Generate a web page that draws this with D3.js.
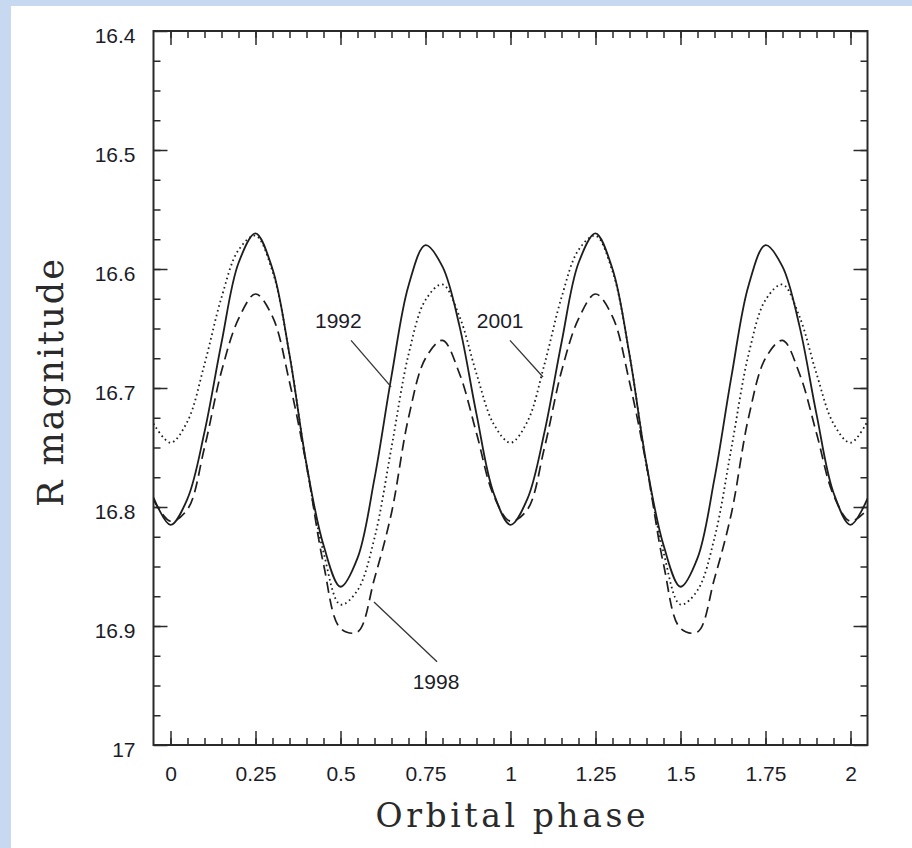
<!DOCTYPE html>
<html>
<head>
<meta charset="utf-8">
<script src="https://cdn.jsdelivr.net/npm/d3@7/dist/d3.min.js"></script>
<style>
  html, body { margin: 0; padding: 0; background: #c6d9f0; }
  svg { display: block; }
</style>
</head>
<body>
<svg id="chart" width="912" height="848"></svg>
<script>
// ---------- data ----------
const phases = [-0.05, 0.00, 0.05, 0.10, 0.15, 0.20, 0.25, 0.30, 0.35, 0.40, 0.45,
  0.50, 0.55, 0.60, 0.65, 0.70, 0.75, 0.80, 0.85, 0.90, 0.95, 1.00,
  1.05, 1.10, 1.15, 1.20, 1.25, 1.30, 1.35, 1.40, 1.45, 1.50, 1.55,
  1.60, 1.65, 1.70, 1.75, 1.80, 1.85, 1.90, 1.95, 2.00, 2.05];

const mag1992 = [16.792, 16.815, 16.793, 16.737, 16.662, 16.595, 16.570, 16.600, 16.672, 16.764, 16.832,
  16.867, 16.843, 16.776, 16.690, 16.614, 16.580, 16.598, 16.648, 16.722, 16.788, 16.815,
  16.793, 16.737, 16.662, 16.595, 16.570, 16.600, 16.672, 16.764, 16.832, 16.867, 16.843,
  16.776, 16.690, 16.614, 16.580, 16.598, 16.648, 16.722, 16.788, 16.815, 16.793];

const mag2001 = [16.730, 16.746, 16.728, 16.680, 16.624, 16.584, 16.572, 16.602, 16.672, 16.765, 16.838,
  16.882, 16.870, 16.826, 16.750, 16.672, 16.626, 16.613, 16.640, 16.688, 16.730, 16.746,
  16.728, 16.680, 16.624, 16.584, 16.572, 16.602, 16.672, 16.765, 16.838, 16.882, 16.870,
  16.826, 16.750, 16.672, 16.626, 16.613, 16.640, 16.688, 16.730, 16.746, 16.728];

const mag1998 = [16.794, 16.812, 16.802, 16.750, 16.686, 16.642, 16.621, 16.640, 16.695, 16.765, 16.848,
  16.902, 16.905, 16.860, 16.805, 16.725, 16.675, 16.660, 16.688, 16.738, 16.790, 16.812,
  16.802, 16.750, 16.686, 16.642, 16.621, 16.640, 16.695, 16.765, 16.848, 16.902, 16.905,
  16.860, 16.805, 16.725, 16.675, 16.660, 16.688, 16.738, 16.790, 16.812, 16.802];

const xTickValues = [0, 0.25, 0.5, 0.75, 1, 1.25, 1.5, 1.75, 2];
const xTickLabels = ["0", "0.25", "0.5", "0.75", "1", "1.25", "1.5", "1.75", "2"];
const yTickValues = [16.4, 16.5, 16.6, 16.7, 16.8, 16.9, 17];
const yTickLabels = ["16.4", "16.5", "16.6", "16.7", "16.8", "16.9", "17"];

const seriesNames = ["1992", "2001", "1998"];
const seriesStyles = ["solid", "dotted", "dashed"];

// annotation labels (data coordinates: phase, magnitude)
const annotLabels = ["1992", "2001", "1998"];
const annotTextPos = [[0.425, 16.6495], [0.901, 16.6495], [0.781, 16.953]];
const annotLineFrom = [[0.531, 16.660], [0.9985, 16.660], [0.5985, 16.8798]];
const annotLineTo = [[0.649, 16.699], [1.0956, 16.6908], [0.784, 16.930]];
const annotAnchor = ["start", "start", "middle"];

// ---------- layout ----------
const W = 912, H = 848;
const plot = { left: 153.5, right: 867.5, top: 31, bottom: 745 };

const svg = d3.select("#chart");
svg.append("rect").attr("x", 0).attr("y", 0).attr("width", W).attr("height", H).attr("fill", "#c6d9f0");
svg.append("rect").attr("x", 11).attr("y", 6).attr("width", W - 11).attr("height", H - 6).attr("fill", "#ffffff");

const x = d3.scaleLinear().domain([-0.05, 2.05]).range([plot.left, plot.right]);
const y = d3.scaleLinear().domain([16.4, 17]).range([plot.top, plot.bottom]);

const axisColor = "#2a2a2a";
const tickFont = "'Liberation Sans', Arial, Helvetica, sans-serif";
const titleFont = "'DejaVu Serif', 'Liberation Serif', serif";

const xMinor = d3.range(0, 43).map(i => -0.05 + i * 0.05).filter(v => v > -0.049 && v < 2.049);
const yMinor = d3.range(0, 25).map(i => 16.4 + i * 0.025).filter(v => v > 16.401 && v < 16.999);

function styleAxis(g) {
  g.select(".domain").remove();
  g.selectAll(".tick line").attr("stroke", axisColor).attr("stroke-width", 1.5);
}

// minor ticks
svg.append("g").attr("transform", `translate(0,${plot.bottom})`)
  .call(d3.axisBottom(x).tickValues(xMinor).tickSize(-7).tickFormat(""))
  .call(styleAxis);
svg.append("g").attr("transform", `translate(0,${plot.top})`)
  .call(d3.axisTop(x).tickValues(xMinor).tickSize(-7).tickFormat(""))
  .call(styleAxis);
svg.append("g").attr("transform", `translate(${plot.left},0)`)
  .call(d3.axisLeft(y).tickValues(yMinor).tickSize(-7).tickFormat(""))
  .call(styleAxis);
svg.append("g").attr("transform", `translate(${plot.right},0)`)
  .call(d3.axisRight(y).tickValues(yMinor).tickSize(-7).tickFormat(""))
  .call(styleAxis);

// major ticks
const xb = svg.append("g").attr("transform", `translate(0,${plot.bottom})`)
  .call(d3.axisBottom(x).tickValues(xTickValues).tickSize(-14).tickPadding(21)
    .tickFormat((d, i) => xTickLabels[i]))
  .call(styleAxis);
xb.selectAll("text").attr("font-family", tickFont).attr("font-size", 21)
  .attr("fill", "#1c1c28").attr("dy", "0.71em");

svg.append("g").attr("transform", `translate(0,${plot.top})`)
  .call(d3.axisTop(x).tickValues(xTickValues).tickSize(-14).tickFormat(""))
  .call(styleAxis);

const yl = svg.append("g").attr("transform", `translate(${plot.left},0)`)
  .call(d3.axisLeft(y).tickValues(yTickValues).tickSize(-14).tickPadding(18)
    .tickFormat((d, i) => yTickLabels[i]))
  .call(styleAxis);
yl.selectAll("text").attr("font-family", tickFont).attr("font-size", 21)
  .attr("fill", "#1c1c28").attr("dy", "0.55em");

svg.append("g").attr("transform", `translate(${plot.right},0)`)
  .call(d3.axisRight(y).tickValues(yTickValues).tickSize(-14).tickFormat(""))
  .call(styleAxis);

// frame
svg.append("rect")
  .attr("x", plot.left).attr("y", plot.top)
  .attr("width", plot.right - plot.left).attr("height", plot.bottom - plot.top)
  .attr("fill", "none").attr("stroke", axisColor).attr("stroke-width", 2);

// clip
svg.append("clipPath").attr("id", "clip").append("rect")
  .attr("x", plot.left).attr("y", plot.top)
  .attr("width", plot.right - plot.left).attr("height", plot.bottom - plot.top);

const line = d3.line()
  .x((d, i) => x(phases[i]))
  .y(d => y(d))
  .curve(d3.curveCatmullRom.alpha(0.5));

const allSeries = [mag1992, mag2001, mag1998];
const dashes = { solid: null, dotted: "1.6,3.2", dashed: "11,6" };
const widths = { solid: 1.8, dotted: 1.8, dashed: 1.7 };

const gLines = svg.append("g").attr("clip-path", "url(#clip)");
allSeries.forEach((s, k) => {
  const st = seriesStyles[k];
  gLines.append("path")
    .datum(s)
    .attr("d", line)
    .attr("fill", "none")
    .attr("stroke", "#1e1e1e")
    .attr("stroke-width", widths[st])
    .attr("stroke-dasharray", dashes[st])
    .attr("class", "series-" + seriesNames[k]);
});

// annotations
annotLabels.forEach((lab, i) => {
  svg.append("line")
    .attr("x1", x(annotLineFrom[i][0])).attr("y1", y(annotLineFrom[i][1]))
    .attr("x2", x(annotLineTo[i][0])).attr("y2", y(annotLineTo[i][1]))
    .attr("stroke", "#333").attr("stroke-width", 1.3);
  svg.append("text")
    .attr("x", x(annotTextPos[i][0])).attr("y", y(annotTextPos[i][1]))
    .attr("text-anchor", annotAnchor[i])
    .attr("font-family", tickFont).attr("font-size", 21)
    .attr("fill", "#1c1c28")
    .text(lab);
});

// axis titles
svg.append("text")
  .attr("x", (plot.left + plot.right) / 2).attr("y", 827)
  .attr("text-anchor", "middle")
  .attr("font-family", titleFont).attr("font-size", 33)
  .attr("textLength", 270).attr("lengthAdjust", "spacing")
  .attr("fill", "#2a2a2a")
  .text("Orbital phase");

svg.append("text")
  .attr("transform", `translate(63,${(plot.top + plot.bottom) / 2 - 5}) rotate(-90)`)
  .attr("text-anchor", "middle")
  .attr("font-family", titleFont).attr("font-size", 35)
  .attr("textLength", 248).attr("lengthAdjust", "spacing")
  .attr("fill", "#2a2a2a")
  .text("R magnitude");
</script>
</body>
</html>
